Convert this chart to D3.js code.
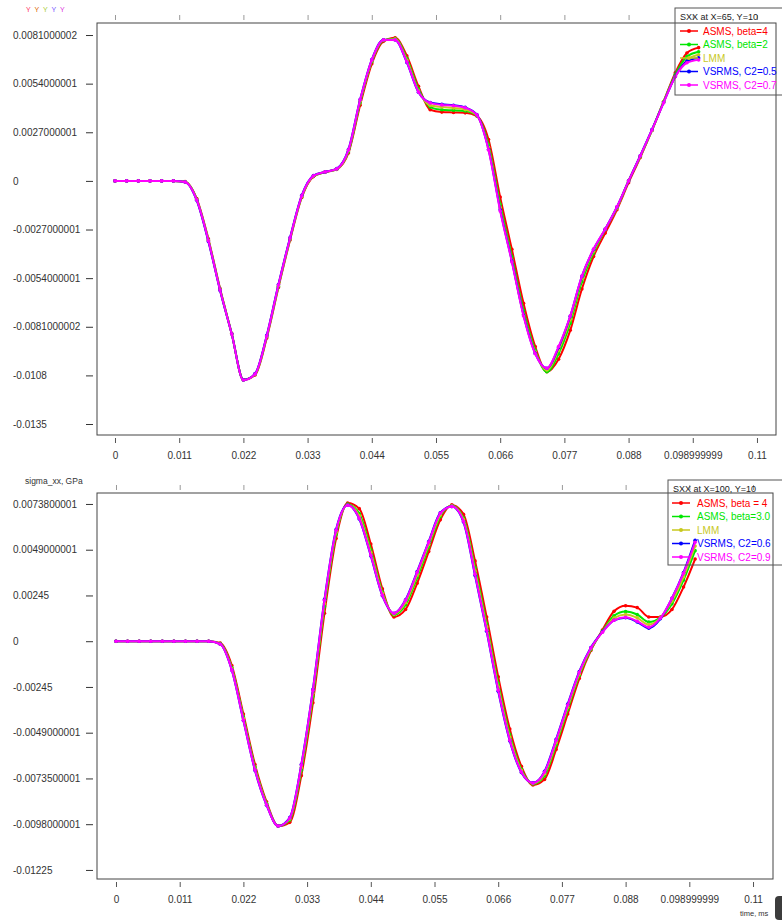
<!DOCTYPE html>
<html>
<head>
<meta charset="utf-8">
<script src="https://cdn.jsdelivr.net/npm/d3@7"></script>
<style>
  html, body { margin: 0; padding: 0; background: #fff; }
  svg { display: block; }
  text { font-family: "Liberation Sans", Arial, sans-serif; }
</style>
</head>
<body>
<svg id="chart" width="782" height="922"></svg>
<script>
// ---------------- DATA ----------------
const time = [0, 0.002, 0.004, 0.006, 0.008, 0.010, 0.012, 0.014, 0.016, 0.018,
  0.020, 0.022, 0.024, 0.026, 0.028, 0.030, 0.032, 0.034, 0.036, 0.038,
  0.040, 0.042, 0.044, 0.046, 0.048, 0.050, 0.052, 0.054, 0.056, 0.058,
  0.060, 0.062, 0.064, 0.066, 0.068, 0.070, 0.072, 0.074, 0.076, 0.078,
  0.080, 0.082, 0.084, 0.086, 0.088, 0.090, 0.092, 0.094, 0.096, 0.098, 0.100];

const xTickValues = [0, 0.011, 0.022, 0.033, 0.044, 0.055, 0.066, 0.077, 0.088, 0.099, 0.11];
const xTickLabels = ["0", "0.011", "0.022", "0.033", "0.044", "0.055", "0.066", "0.077", "0.088", "0.098999999", "0.11"];

const topYTickValues = [0.0081, 0.0054, 0.0027, 0, -0.0027, -0.0054, -0.0081, -0.0108, -0.0135];
const topYTickLabels = ["0.0081000002", "0.0054000001", "0.0027000001", "0", "-0.0027000001", "-0.0054000001", "-0.0081000002", "-0.0108", "-0.0135"];

const botYTickValues = [0.00735, 0.0049, 0.00245, 0, -0.00245, -0.0049, -0.00735, -0.0098, -0.01225];
const botYTickLabels = ["0.0073800001", "0.0049000001", "0.00245", "0", "-0.00245", "-0.0049000001", "-0.0073500001", "-0.0098000001", "-0.01225"];

// Top panel: SXX at X=65, Y=10
const topTitle = "SXX at X=65, Y=10";
const topNames = ["ASMS, beta=4", "ASMS, beta=2", "LMM", "VSRMS, C2=0.5", "VSRMS, C2=0.7"];
const topRed = [0,0,0,0,0,0, -0.00004, -0.00098, -0.00322, -0.00598, -0.00848, -0.01104, -0.01078, -0.00872, -0.00592, -0.00328, -0.00092, 0.00024, 0.00048, 0.00064, 0.00155, 0.0042, 0.0065, 0.00775, 0.00795, 0.00695, 0.00525, 0.00395, 0.00382, 0.0038, 0.00378, 0.0036, 0.0023, -0.0009, -0.0038, -0.0068, -0.0092, -0.0106, -0.0099, -0.0083, -0.006, -0.0042, -0.0029, -0.0016, -0.0001, 0.0013, 0.0028, 0.0044, 0.006, 0.0071, 0.0074];
const topGreen = [0,0,0,0,0,0, -0.00005, -0.00102, -0.00328, -0.00602, -0.00849, -0.01105, -0.01075, -0.00866, -0.00585, -0.00322, -0.00088, 0.00026, 0.00049, 0.00066, 0.00162, 0.00435, 0.00662, 0.0078, 0.0079, 0.0068, 0.0051, 0.0041, 0.00395, 0.00392, 0.00388, 0.00362, 0.002, -0.0013, -0.0042, -0.0072, -0.0094, -0.0106, -0.0096, -0.0079, -0.0056, -0.004, -0.0027, -0.0015, 0.0, 0.00135, 0.0028, 0.0044, 0.0059, 0.0069, 0.00717];
const topLMM = [0,0,0,0,0,0, -0.00005, -0.00104, -0.0033, -0.00604, -0.0085, -0.01105, -0.01073, -0.00864, -0.00582, -0.0032, -0.00086, 0.00027, 0.0005, 0.00066, 0.00167, 0.00442, 0.00667, 0.00782, 0.00787, 0.0067, 0.005, 0.0042, 0.0041, 0.00405, 0.00396, 0.00364, 0.00185, -0.0015, -0.0044, -0.0074, -0.0095, -0.0105, -0.0094, -0.0077, -0.0054, -0.0039, -0.0027, -0.0015, 0.0, 0.00137, 0.0028, 0.0044, 0.0058, 0.0067, 0.007];
const topBlue = [0,0,0,0,0,0, -0.00006, -0.00108, -0.00336, -0.00608, -0.0085, -0.01105, -0.0107, -0.00858, -0.00575, -0.00314, -0.0008, 0.0003, 0.0005, 0.00068, 0.00175, 0.00452, 0.00674, 0.00784, 0.00782, 0.00658, 0.00492, 0.00435, 0.00425, 0.0042, 0.00408, 0.00368, 0.00175, -0.0016, -0.00445, -0.00745, -0.00958, -0.0104, -0.00925, -0.00752, -0.0053, -0.0038, -0.00268, -0.00145, 0.0, 0.0014, 0.00285, 0.00435, 0.0058, 0.00665, 0.00683];
const topMagenta = [0,0,0,0,0,0, -0.00006, -0.00106, -0.00333, -0.00606, -0.0085, -0.01106, -0.01072, -0.00861, -0.00578, -0.00317, -0.00083, 0.00028, 0.0005, 0.00067, 0.00172, 0.0045, 0.00672, 0.00783, 0.00783, 0.00661, 0.00494, 0.00433, 0.00422, 0.00417, 0.00406, 0.00367, 0.00172, -0.00167, -0.0045, -0.0075, -0.0096, -0.0104, -0.0092, -0.0075, -0.00528, -0.00378, -0.00267, -0.00144, 0.0, 0.00139, 0.00283, 0.00433, 0.00578, 0.00656, 0.00672];

// Bottom panel: SXX at X=100, Y=10
const botTitle = "SXX at X=100, Y=10";
const botNames = ["ASMS, beta = 4", "ASMS, beta=3.0", "LMM", "VSRMS, C2=0.6", "VSRMS, C2=0.9"];
const botRed = [0,0,0,0,0,0,0,0,0, -0.0001, -0.0013, -0.0039, -0.0066, -0.0086, -0.0099, -0.0097, -0.0072, -0.0033, 0.0015, 0.0055, 0.0074, 0.0071, 0.0052, 0.0028, 0.0013, 0.0017, 0.0031, 0.0048, 0.0065, 0.0073, 0.0068, 0.0043, 0.0013, -0.0019, -0.0047, -0.0067, -0.0077, -0.0074, -0.0058, -0.0039, -0.002, -0.0005, 0.0006, 0.0016, 0.0019, 0.0018, 0.0013, 0.0013, 0.0017, 0.0029, 0.0044];
const botGreen = [0,0,0,0,0,0,0,0,0, -0.00013, -0.00142, -0.00406, -0.00675, -0.00868, -0.0099, -0.00958, -0.00692, -0.00296, 0.00185, 0.00572, 0.00734, 0.00684, 0.0049, 0.00263, 0.0014, 0.00195, 0.0034, 0.00505, 0.00668, 0.00726, 0.0066, 0.00394, 0.00094, -0.00226, -0.005, -0.00686, -0.00765, -0.0072, -0.00555, -0.00366, -0.00183, -0.00044, 0.00054, 0.00136, 0.00159, 0.00143, 0.00103, 0.00127, 0.002, 0.00327, 0.00485];
const botLMM = [0,0,0,0,0,0,0,0,0, -0.00015, -0.00148, -0.00414, -0.00682, -0.00872, -0.0099, -0.00952, -0.00677, -0.00279, 0.00202, 0.00583, 0.00731, 0.00671, 0.00475, 0.00255, 0.00145, 0.00207, 0.00355, 0.00518, 0.00676, 0.00724, 0.00651, 0.00376, 0.00077, -0.00244, -0.00515, -0.00693, -0.00762, -0.0071, -0.00542, -0.00354, -0.00175, -0.0004, 0.00051, 0.00124, 0.00143, 0.00125, 0.00089, 0.00125, 0.00215, 0.00345, 0.0051];
const botBlue = [0,0,0,0,0,0,0,0,0, -0.00016, -0.00156, -0.00425, -0.00692, -0.00878, -0.0099, -0.00945, -0.0066, -0.00258, 0.00224, 0.00598, 0.00729, 0.00655, 0.00456, 0.00243, 0.0015, 0.00222, 0.00373, 0.00534, 0.00688, 0.00721, 0.00638, 0.00352, 0.00053, -0.00268, -0.00534, -0.00703, -0.00758, -0.00697, -0.00525, -0.00337, -0.00162, -0.00034, 0.0005, 0.00112, 0.00126, 0.00103, 0.0007, 0.0012, 0.0023, 0.00368, 0.0054];
const botMagenta = [0,0,0,0,0,0,0,0,0, -0.00016, -0.00155, -0.00423, -0.0069, -0.00877, -0.0099, -0.00947, -0.00663, -0.00262, 0.00219, 0.00594, 0.00728, 0.00658, 0.0046, 0.00246, 0.0015, 0.00219, 0.00369, 0.0053, 0.00685, 0.00722, 0.00642, 0.00358, 0.00059, -0.00262, -0.0053, -0.00701, -0.0076, -0.00701, -0.0053, -0.00342, -0.00166, -0.00037, 0.00048, 0.00112, 0.00128, 0.00107, 0.00075, 0.00123, 0.0023, 0.00364, 0.0053];

const seriesColors = ["#ff0000", "#00e600", "#c8c81e", "#0000ff", "#ff00ff"];
const yLabel = "sigma_xx, GPa";
const xLabel = "time, ms";

// ---------------- DRAWING ----------------
const svg = d3.select("#chart");

function drawPanel(cfg) {
  const { left, right, top, bottom, xDomain, yDomain, yTickValues, yTickLabels, series, names, title, legend, id } = cfg;
  const x = d3.scaleLinear().domain(xDomain).range([left, right]);
  const y = d3.scaleLinear().domain(yDomain).range([bottom, top]);
  const g = svg.append("g");

  g.append("clipPath").attr("id", "clip" + id)
    .append("rect").attr("x", left).attr("y", top).attr("width", right - left).attr("height", bottom - top);

  // Y ticks (detached from frame) and labels
  const yAxis = d3.axisLeft(y).tickValues(yTickValues).tickSize(7).tickFormat((d, i) => yTickLabels[i]);
  const ya = g.append("g").attr("transform", `translate(${left - 4},0)`).call(yAxis);
  ya.select(".domain").remove();
  ya.selectAll(".tick line").attr("stroke", "#333").attr("stroke-width", 1);
  ya.selectAll(".tick text")
    .attr("text-anchor", "start").attr("x", 13 - (left - 4)).attr("dy", "0.32em")
    .attr("fill", "#333").style("font-size", "10px").style("font-family", "'Liberation Sans', Arial, sans-serif");

  // X ticks below frame
  const xAxis = d3.axisBottom(x).tickValues(xTickValues).tickSize(5).tickPadding(9).tickFormat((d, i) => xTickLabels[i]);
  const xa = g.append("g").attr("transform", `translate(0,${bottom + 3})`).call(xAxis);
  xa.select(".domain").remove();
  xa.selectAll(".tick line").attr("stroke", "#555").attr("stroke-width", 1);
  xa.selectAll(".tick text").attr("fill", "#333").style("font-size", "10px").style("font-family", "'Liberation Sans', Arial, sans-serif");

  // faint X ticks above the frame
  const xAxisTop = d3.axisTop(x).tickValues(xTickValues).tickSize(5).tickFormat("");
  const xt = g.append("g").attr("transform", `translate(0,${top - 3})`).call(xAxisTop);
  xt.select(".domain").remove();
  xt.selectAll(".tick line").attr("stroke", "#999").attr("stroke-width", 1);

  // Series
  const plot = g.append("g").attr("clip-path", `url(#clip${id})`);
  const line = d3.line().x((d, i) => x(time[i])).y(d => y(d)).curve(d3.curveMonotoneX);
  series.forEach((vals, k) => {
    plot.append("path").datum(vals)
      .attr("fill", "none").attr("stroke", seriesColors[k]).attr("stroke-width", 2)
      .attr("d", line);
    plot.append("g").selectAll("circle").data(vals).join("circle")
      .attr("cx", (d, i) => x(time[i])).attr("cy", d => y(d)).attr("r", 1.8)
      .attr("fill", seriesColors[k]);
  });

  // Frame
  g.append("rect").attr("x", left).attr("y", top).attr("width", right - left).attr("height", bottom - top)
    .attr("fill", "none").attr("stroke", "#444").attr("stroke-width", 1);

  // Legend (transparent box running past the window edge, as in the reference)
  const lg = g.append("g");
  lg.append("rect").attr("x", legend.x).attr("y", legend.y).attr("width", 140).attr("height", legend.h)
    .attr("fill", "none").attr("stroke", "#555").attr("stroke-width", 1);
  lg.append("text").attr("x", legend.x + 5).attr("y", legend.y + 9).attr("dy", "0.35em")
    .attr("fill", "#222").style("font-size", "9px").text(title);
  names.forEach((nm, k) => {
    const cy = legend.y + 23 + k * 13.5;
    lg.append("line").attr("x1", legend.lx).attr("x2", legend.lx + 18).attr("y1", cy).attr("y2", cy)
      .attr("stroke", seriesColors[k]).attr("stroke-width", 1.5);
    lg.append("circle").attr("cx", legend.lx + 9).attr("cy", cy).attr("r", 2).attr("fill", seriesColors[k]);
    lg.append("text").attr("x", legend.tx).attr("y", cy).attr("dy", "0.35em")
      .attr("fill", seriesColors[k]).style("font-size", "10px").text(nm);
  });
  return { x, y };
}

drawPanel({
  id: "top", left: 97, right: 776, top: 23, bottom: 435,
  xDomain: [-0.003084, 0.11326], yDomain: [-0.01411, 0.008768],
  yTickValues: topYTickValues, yTickLabels: topYTickLabels,
  series: [topRed, topGreen, topLMM, topBlue, topMagenta], names: topNames, title: topTitle,
  legend: { x: 675, y: 8, h: 87, lx: 680, tx: 703 }
});

drawPanel({
  id: "bot", left: 97, right: 773, top: 493, bottom: 879,
  xDomain: [-0.00328, 0.11345], yDomain: [-0.012735, 0.007937],
  yTickValues: botYTickValues, yTickLabels: botYTickLabels,
  series: [botRed, botGreen, botLMM, botBlue, botMagenta], names: botNames, title: botTitle,
  legend: { x: 668, y: 480, h: 85, lx: 672, tx: 697 }
});

// Axis titles
svg.append("text").attr("x", 25).attr("y", 481).attr("dy", "0.35em")
  .attr("fill", "#333").style("font-size", "8.5px").text(yLabel);
svg.append("text").attr("x", 740).attr("y", 913).attr("dy", "0.35em")
  .attr("fill", "#333").style("font-size", "7.5px").text(xLabel);

// small coloured glyphs at the top-left corner
const glyphColors = ["#ff3366", "#dd6600", "#aacc33", "#7755ff", "#dd33dd"];
svg.append("g").selectAll("text").data(glyphColors).join("text")
  .attr("x", (d, i) => 26 + i * 8.5).attr("y", 10).attr("dy", "0.35em")
  .attr("fill", d => d).style("font-size", "7px").text("Y");

// dark widget clipped at bottom right corner
svg.append("rect").attr("x", 775).attr("y", 896).attr("width", 20).attr("height", 24).attr("rx", 4)
  .attr("fill", "#3c3c3c");
</script>
</body>
</html>
